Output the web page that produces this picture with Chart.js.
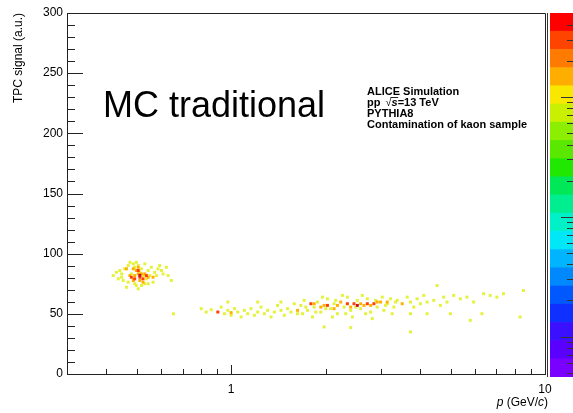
<!DOCTYPE html>
<html>
<head>
<meta charset="utf-8">
<script src="https://cdn.jsdelivr.net/npm/chart.js@4.4.0/dist/chart.umd.min.js"></script>
<style>
    html, body { margin: 0; padding: 0; background: #fff; }
    #wrap { position: relative; width: 573px; height: 413px; overflow: hidden; }
    #main { position: absolute; left: 0; top: 0; }
    #palette { position: absolute; left: 547px; top: 0; }
</style>
</head>
<body>
<div id="wrap">
    <canvas id="main" width="573" height="413"></canvas>
    <canvas id="palette" width="26" height="413"></canvas>
</div>
<script>
// bins of the kaon sample, [p (GeV/c), TPC signal], grouped by colour level
const binsLow = [
    [0.421, 81.8], [0.431, 84.5], [0.442, 86.0], [0.448, 80.4], [0.453, 77.7], [0.458, 87.4],
    [0.470, 90.1], [0.476, 92.8], [0.488, 91.5], [0.493, 88.7], [0.499, 92.8], [0.506, 90.1],
    [0.518, 87.4], [0.531, 91.5], [0.544, 86.0], [0.557, 88.7], [0.571, 84.5], [0.578, 81.8],
    [0.585, 87.4], [0.592, 90.1], [0.600, 86.0], [0.607, 83.2], [0.622, 88.7], [0.630, 81.8],
    [0.645, 77.7], [0.564, 76.3], [0.544, 75.0], [0.518, 73.6], [0.493, 75.0], [0.470, 76.3],
    [0.464, 72.1], [0.506, 70.8], [0.537, 79.1], [0.448, 83.2], [0.437, 79.1], [0.488, 79.1],
    [0.524, 81.8], [0.551, 81.8], [0.481, 83.2], [0.512, 84.5], [0.531, 75.0], [0.499, 73.6],
    [0.655, 50.0],
    [0.803, 54.3], [0.833, 51.5], [0.864, 53.4], [0.930, 55.6], [0.952, 50.1], [0.976, 52.9],
    [1.000, 48.8], [1.025, 54.3], [1.050, 51.5], [1.076, 47.4], [1.102, 52.9], [1.129, 50.1],
    [1.157, 54.3], [1.186, 48.8], [1.215, 51.5], [1.245, 55.6], [1.276, 50.1], [1.307, 52.9],
    [1.340, 47.4], [1.373, 51.5], [1.406, 57.0], [1.441, 52.9], [1.477, 48.8], [1.513, 54.3],
    [1.551, 51.5], [1.589, 58.4], [1.628, 50.1], [0.976, 59.8], [1.215, 59.8], [1.441, 59.8],
    [1.668, 57.0], [1.709, 61.2], [1.752, 52.9], [1.839, 55.6], [1.884, 59.8], [1.931, 51.5],
    [2.027, 62.5], [2.077, 54.3], [2.128, 58.4], [2.181, 50.1], [2.290, 55.6], [2.346, 63.9],
    [2.404, 52.9], [2.524, 61.2], [2.586, 54.3], [2.716, 62.5], [2.783, 51.5], [2.921, 55.6],
    [3.067, 52.9], [3.143, 58.4], [3.221, 62.5], [3.300, 55.6], [1.689, 50.1], [1.817, 47.4],
    [1.954, 63.9], [2.103, 47.4], [2.262, 65.3], [2.434, 47.4], [2.618, 65.3], [2.817, 46.0],
    [3.030, 63.9], [3.260, 50.1], [1.730, 55.6], [1.861, 51.5], [2.003, 54.3], [2.154, 61.2],
    [2.318, 50.1], [2.494, 55.6], [2.683, 50.1], [2.886, 61.2], [3.105, 57.0], [3.340, 59.8],
    [3.381, 61.2], [3.638, 63.9], [3.728, 59.8], [3.819, 55.6], [3.913, 62.5], [4.010, 58.4],
    [4.109, 65.3], [4.210, 59.8], [4.421, 61.2], [4.530, 73.5], [4.642, 57.0], [4.756, 63.9],
    [4.873, 59.8], [5.117, 65.3], [5.373, 62.5], [5.641, 63.9], [5.923, 59.8], [6.372, 66.7],
    [6.690, 65.3], [7.024, 63.9], [7.374, 66.7], [8.535, 69.4], [8.330, 47.4], [3.728, 50.1],
    [4.210, 50.1], [4.994, 50.1], [5.780, 44.6], [6.295, 50.1], [2.404, 38.6], [1.978, 39.1],
    [3.728, 35.0]
];
const binsMid = [
    [0.464, 87.4], [0.488, 87.4], [0.499, 86.0], [0.506, 83.2], [0.518, 83.2], [0.531, 83.2],
    [0.493, 81.8], [0.476, 81.8], [0.544, 80.4], [0.564, 80.4], [0.488, 77.7], [0.512, 77.7],
    [0.524, 76.3], [0.506, 88.7],
    [1.000, 51.0], [1.628, 52.9], [3.508, 58.4], [1.978, 57.0], [2.235, 59.8], [2.650, 57.0],
    [2.994, 59.8], [1.839, 58.4], [2.181, 57.0], [2.404, 55.6], [2.586, 58.4], [2.921, 59.8],
    [3.143, 59.8], [2.128, 54.3], [1.931, 55.6], [2.783, 57.0]
];
const binsHigh = [
    [0.493, 79.1], [0.512, 80.4], [0.524, 79.1], [0.537, 81.8], [0.506, 86.0], [0.481, 80.4],
    [0.907, 51.5], [1.795, 58.4], [2.463, 58.4], [2.851, 58.4], [2.027, 57.0], [2.346, 58.4],
    [2.716, 58.4]
];
const binsPeak = [[2.524, 57.0], [0.512, 82.0]];

// axis ticks
const xTickLabels = [1, 10];
const xMinorTicks = [0.4, 0.5, 0.6, 0.7, 0.8, 0.9, 2, 3, 4, 5, 6, 7, 8, 9];
const yMajorTicks = [0, 50, 100, 150, 200, 250, 300];
const yMinorTicks = [10, 20, 30, 40, 60, 70, 80, 90, 110, 120, 130, 140, 160, 170, 180, 190, 210, 220, 230, 240, 260, 270, 280, 290];

// colour palette (bottom to top) and z axis ticks
const paletteColors = ['#7a00ff', '#5a00ff', '#3a10ff', '#1030ff', '#0058ff', '#0088ff', '#00b4ff', '#00e8f8',
    '#00f0c8', '#00ee90', '#00e858', '#20e800', '#5ae800', '#8cee00', '#c8f000', '#f8e800', '#ffae00', '#ff7a00',
    '#ff4400', '#ff0000'];
const zMajorTicks = [1, 10, 100];
const zMinorTicks = [0.5, 0.6, 0.7, 0.8, 0.9, 2, 3, 4, 5, 6, 7, 8, 9, 20, 30, 40, 50, 60, 70, 80, 90, 200, 300, 400];

const font = '"Liberation Sans", Arial, sans-serif';

function toPoints(bins) {
    return bins.map(b => ({ x: b[0], y: b[1] }));
}

function binDataset(bins, color, order) {
    return {
        data: toPoints(bins),
        backgroundColor: color,
        borderWidth: 0,
        pointStyle: 'rect',
        pointRadius: 2.1,
        order: order
    };
}

// ROOT style frame: inner ticks, top and right border, texts
const rootFrame = {
    id: 'rootFrame',
    afterDraw(chart) {
        const ctx = chart.ctx;
        const area = chart.chartArea;
        const xs = chart.scales.x;
        const ys = chart.scales.y;
        ctx.save();
        ctx.strokeStyle = '#222';
        ctx.lineWidth = 1;
        ctx.beginPath();
        ctx.moveTo(area.left, area.top + 0.5);
        ctx.lineTo(area.right + 0.5, area.top + 0.5);
        ctx.lineTo(area.right + 0.5, area.bottom);
        yMajorTicks.forEach(v => {
            const y = Math.round(ys.getPixelForValue(v)) + 0.5;
            ctx.moveTo(area.left, y);
            ctx.lineTo(area.left + 16, y);
        });
        yMinorTicks.forEach(v => {
            const y = Math.round(ys.getPixelForValue(v)) + 0.5;
            ctx.moveTo(area.left, y);
            ctx.lineTo(area.left + 8, y);
        });
        xTickLabels.forEach(v => {
            const x = Math.round(xs.getPixelForValue(v)) + 0.5;
            ctx.moveTo(x, area.bottom);
            ctx.lineTo(x, area.bottom - 9);
        });
        xMinorTicks.forEach(v => {
            const x = Math.round(xs.getPixelForValue(v)) + 0.5;
            ctx.moveTo(x, area.bottom);
            ctx.lineTo(x, area.bottom - 5);
        });
        ctx.stroke();

        // x axis title with italic p and c
        ctx.fillStyle = '#000';
        ctx.textBaseline = 'alphabetic';
        const parts = [['italic', 'p'], ['normal', ' (GeV/'], ['italic', 'c'], ['normal', ')']];
        let w = 0;
        parts.forEach(p => { ctx.font = p[0] + ' 12px ' + font; w += ctx.measureText(p[1]).width; });
        let x = 548 - w;
        parts.forEach(p => {
            ctx.font = p[0] + ' 12px ' + font;
            ctx.fillText(p[1], x, 406);
            x += ctx.measureText(p[1]).width;
        });

        // big label
        ctx.font = '36px ' + font;
        ctx.fillText('MC traditional', 103, 117);

        // info box
        ctx.font = 'bold 11px ' + font;
        ctx.fillText('ALICE Simulation', 367, 95);
        ctx.fillText('pp', 367, 106);
        let sx = 367 + ctx.measureText('pp ').width + 2;
        ctx.font = '11px ' + font;
        ctx.fillText('\u221A', sx, 106);
        sx += ctx.measureText('\u221A').width;
        ctx.font = 'bold italic 11px ' + font;
        ctx.fillText('s', sx, 106);
        const sw = ctx.measureText('s').width;
        ctx.beginPath();
        ctx.moveTo(sx - 1, 97.5);
        ctx.lineTo(sx + sw + 0.5, 97.5);
        ctx.stroke();
        ctx.font = 'bold 11px ' + font;
        ctx.fillText('=13 TeV', sx + sw, 106);
        ctx.fillText('PYTHIA8', 367, 117);
        ctx.fillText('Contamination of kaon sample', 367, 128);
        ctx.restore();
    }
};

new Chart(document.getElementById('main'), {
    type: 'scatter',
    data: {
        datasets: [
            binDataset(binsPeak, '#c81020', 0),
            binDataset(binsHigh, '#ff4000', 1),
            binDataset(binsMid, '#ffb000', 2),
            binDataset(binsLow, '#e4f23a', 3)
        ]
    },
    options: {
        responsive: false,
        animation: false,
        events: [],
        layout: { padding: { left: 0, top: 13, right: 28, bottom: 0 } },
        plugins: { legend: { display: false }, tooltip: { enabled: false } },
        scales: {
            x: {
                type: 'logarithmic',
                min: 0.3,
                max: 10,
                grid: { display: false, drawTicks: false },
                border: { display: true, color: '#222', width: 1 },
                afterBuildTicks: scale => { scale.ticks = xTickLabels.map(v => ({ value: v })); },
                afterFit: scale => { scale.height = 39; },
                ticks: {
                    autoSkip: false,
                    maxRotation: 0,
                    padding: 8,
                    color: '#000',
                    font: { family: font, size: 12 },
                    callback: v => String(v)
                }
            },
            y: {
                min: 0,
                max: 300,
                grid: { display: false, drawTicks: false },
                border: { display: true, color: '#222', width: 1 },
                afterFit: scale => { scale.width = 67; },
                ticks: {
                    stepSize: 50,
                    padding: 4,
                    color: '#000',
                    font: { family: font, size: 12 }
                },
                title: {
                    display: true,
                    text: 'TPC signal (a.u.)',
                    align: 'end',
                    color: '#000',
                    font: { family: font, size: 12 },
                    padding: { top: 11, bottom: 0 }
                }
            }
        }
    },
    plugins: [rootFrame]
});

// palette ticks on the right edge of the colour bar
const paletteTicks = {
    id: 'paletteTicks',
    afterDraw(chart) {
        const ctx = chart.ctx;
        const area = chart.chartArea;
        const zs = chart.scales.z;
        ctx.save();
        ctx.strokeStyle = '#333';
        ctx.lineWidth = 1;
        ctx.beginPath();
        ctx.moveTo(0.5, area.top);
        ctx.lineTo(0.5, area.bottom);
        zMajorTicks.forEach(v => {
            const y = Math.round(zs.getPixelForValue(v)) + 0.5;
            ctx.moveTo(area.right, y);
            ctx.lineTo(area.right - 12, y);
        });
        zMinorTicks.forEach(v => {
            const y = Math.round(zs.getPixelForValue(v)) + 0.5;
            ctx.moveTo(area.right, y);
            ctx.lineTo(area.right - 6, y);
        });
        ctx.stroke();
        ctx.restore();
    }
};

new Chart(document.getElementById('palette'), {
    type: 'bar',
    data: {
        labels: ['z'],
        datasets: paletteColors.map(c => ({
            data: [1],
            backgroundColor: c,
            borderWidth: 0,
            barPercentage: 1,
            categoryPercentage: 1
        }))
    },
    options: {
        responsive: false,
        animation: false,
        events: [],
        layout: { padding: { left: 3, top: 13, right: 0, bottom: 36 } },
        plugins: { legend: { display: false }, tooltip: { enabled: false } },
        scales: {
            x: { display: false, stacked: true },
            y: { display: false, stacked: true, min: 0, max: paletteColors.length },
            z: { type: 'logarithmic', display: false, position: 'right', min: 0.46, max: 500 }
        }
    },
    plugins: [paletteTicks]
});
</script>
</body>
</html>
